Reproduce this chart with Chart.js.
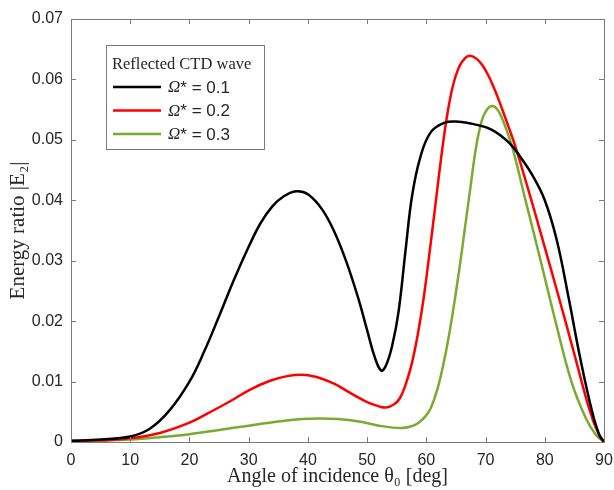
<!DOCTYPE html>
<html>
<head>
<meta charset="utf-8">
<script src="https://cdn.jsdelivr.net/npm/chart.js@4"></script>
<style>
html,body{margin:0;padding:0;background:#fff;}
#wrap{width:614px;height:490px;position:relative;}
</style>
</head>
<body>
<div id="wrap"><canvas id="c" width="614" height="490"></canvas></div>
<script>
// ---- data ----
const legendTitle = 'Reflected CTD wave';
const seriesLabels = ['Ω* = 0.1', 'Ω* = 0.2', 'Ω* = 0.3'];
const seriesColors = ['#000000', '#ff0000', '#77ac30'];

const theta1  = [0,5,10,13.3,16.6,20,22.5,25,27.5,30,32,34,36,38,40,42.4,44.5,46.5,48.5,50,51.3,52.4,53.2,54.2,55.3,56.5,57.6,59,60.7,63,65.4,68,71,74,76,78,80,82,84,86,88,89.2,90];
const energy1 = [0.0002,0.0004,0.0009,0.0022,0.0052,0.0100,0.0150,0.0208,0.0268,0.0323,0.0362,0.0390,0.0407,0.0415,0.0410,0.0385,0.0347,0.0298,0.0238,0.0185,0.0140,0.0118,0.0127,0.0158,0.0215,0.0318,0.0408,0.0472,0.0512,0.0528,0.0530,0.0526,0.0517,0.0495,0.0470,0.0440,0.0400,0.0335,0.0240,0.0138,0.0050,0.0012,0];

const theta2  = [0,5,10,15,20,23.4,26.8,30.1,33.5,36.5,39.5,42,44.5,47,50,52,53.2,54.5,55.5,56.5,57.5,58.5,59.5,60.5,61.5,62.5,63.5,64.5,65.5,66.5,67.4,68.5,69.5,70.5,71.5,72.5,73.5,75,77.5,80,82.5,85,87.5,89,90];
const energy2 = [0.0002,0.0003,0.0006,0.0015,0.0032,0.0049,0.0067,0.0086,0.0101,0.0109,0.0111,0.0106,0.0096,0.0082,0.0066,0.0059,0.0057,0.0062,0.0072,0.0095,0.0128,0.0175,0.0235,0.0310,0.0390,0.0470,0.0540,0.0590,0.0620,0.0635,0.0639,0.0634,0.0623,0.0606,0.0584,0.0559,0.0532,0.0490,0.0408,0.0322,0.0235,0.0145,0.0055,0.0015,0];

const theta3  = [0,5,10,15,20,25,30,35,39,42,45,48.6,52,55.7,57.5,58.7,59.8,60.7,61.8,62.8,63.8,64.8,65.7,66.6,67.5,68.4,69.4,70.3,71.2,72.1,72.9,73.7,74.6,76.7,79.3,81.8,84.5,86.9,88.6,90];
const energy3 = [0.0001,0.0002,0.0004,0.0008,0.0013,0.0020,0.0027,0.0034,0.0038,0.0039,0.0038,0.0034,0.0027,0.0023,0.0026,0.0032,0.0042,0.0055,0.0085,0.0125,0.0175,0.0235,0.0295,0.0360,0.0425,0.0488,0.0533,0.0551,0.0556,0.0549,0.0533,0.0512,0.0485,0.0402,0.0300,0.0200,0.0100,0.0040,0.0012,0];

const xTickValues = [0,10,20,30,40,50,60,70,80,90];
const yTickLabels = ['0','0.01','0.02','0.03','0.04','0.05','0.06','0.07'];
const xTitle = 'Angle of incidence θ₀ [deg]';
const yTitle = 'Energy ratio |E₂|';

function pts(xs, ys){ return xs.map((x,i)=>({x:x, y:ys[i]})); }

const AXIS_COLOR = '#7a7a7a';
const TEXT_COLOR = '#262626';

const boxPlugin = {
  id: 'boxPlugin',
  afterDraw(chart){
    const {ctx, chartArea:a, scales} = chart;
    ctx.save();
    ctx.strokeStyle = AXIS_COLOR;
    ctx.lineWidth = 1;
    ctx.strokeRect(Math.round(a.left)+0.5, Math.round(a.top)+0.5, Math.round(a.right-a.left), Math.round(a.bottom-a.top));
    const tl = 5;
    ctx.beginPath();
    scales.x.ticks.forEach(t=>{
      const px = Math.round(scales.x.getPixelForValue(t.value))+0.5;
      ctx.moveTo(px, a.bottom); ctx.lineTo(px, a.bottom-tl);
      ctx.moveTo(px, a.top); ctx.lineTo(px, a.top+tl);
    });
    scales.y.ticks.forEach(t=>{
      const py = Math.round(scales.y.getPixelForValue(t.value))+0.5;
      ctx.moveTo(a.left, py); ctx.lineTo(a.left+tl, py);
      ctx.moveTo(a.right, py); ctx.lineTo(a.right-tl, py);
    });
    ctx.stroke();

    // legend box
    const lx = 106, ly = 45, lw = 158, lh = 104;
    ctx.fillStyle = '#ffffff';
    ctx.fillRect(lx, ly, lw, lh);
    ctx.strokeStyle = AXIS_COLOR;
    ctx.strokeRect(lx+0.5, ly+0.5, lw, lh);
    ctx.fillStyle = TEXT_COLOR;
    ctx.textBaseline = 'alphabetic';
    ctx.font = '16.5px "Liberation Serif", serif';
    ctx.fillText(legendTitle, lx+6, ly+24);
    chart.data.datasets.forEach((ds,i)=>{
      const yy = ly + 42 + i*23.5;
      ctx.strokeStyle = ds.borderColor;
      ctx.lineWidth = 2.5;
      ctx.beginPath(); ctx.moveTo(lx+7, yy); ctx.lineTo(lx+55, yy); ctx.stroke();
      ctx.fillStyle = TEXT_COLOR;
      ctx.textBaseline = 'middle';
      const lab = ds.label;
      ctx.font = 'italic 17px "Liberation Serif", serif';
      const om = lab.slice(0,1);
      ctx.fillText(om, lx+62, yy+1);
      const w = ctx.measureText(om).width;
      ctx.font = '17px "Liberation Sans", sans-serif';
      ctx.fillText(lab.slice(1), lx+62+w, yy+1);
    });
    ctx.restore();
  }
};

new Chart(document.getElementById('c'), {
  type: 'scatter',
  data: {
    datasets: [
      {label: seriesLabels[0], data: pts(theta1, energy1), borderColor: seriesColors[0]},
      {label: seriesLabels[1], data: pts(theta2, energy2), borderColor: seriesColors[1]},
      {label: seriesLabels[2], data: pts(theta3, energy3), borderColor: seriesColors[2]}
    ].map(d=>Object.assign(d,{showLine:true, pointRadius:0, borderWidth:2.5, tension:0.4, cubicInterpolationMode:'default', fill:false}))
  },
  options: {
    responsive: false,
    animation: false,
    devicePixelRatio: 1,
    layout: {padding: {top: 19, right: 10, left: 0, bottom: 0}},
    plugins: {legend: {display: false}, tooltip: {enabled: false}},
    scales: {
      x: {
        type: 'linear', min: 0, max: 90,
        afterBuildTicks(s){ s.ticks = xTickValues.map(v=>({value:v})); },
        afterFit(s){ s.height = 48; s.paddingLeft = 0; s.paddingRight = 0; },
        grid: {display: false, drawTicks: false},
        border: {display: false},
        ticks: {color: TEXT_COLOR, font: {family: '"Liberation Sans", Arial, sans-serif', size: 16}, padding: 9, maxRotation: 0, callback: v => String(v)},
        title: {display: true, text: xTitle, color: TEXT_COLOR, font: {family: '"Liberation Serif", serif', size: 20}, padding: {top: 0, bottom: 1}}
      },
      y: {
        type: 'linear', min: 0, max: 0.07,
        afterBuildTicks(s){ s.ticks = yTickLabels.map((t,i)=>({value: i*0.01})); },
        afterFit(s){ s.width = 71; s.paddingTop = 0; s.paddingBottom = 0; },
        grid: {display: false, drawTicks: false},
        border: {display: false},
        ticks: {color: TEXT_COLOR, font: {family: '"Liberation Sans", Arial, sans-serif', size: 16}, padding: 8, callback: (v,i) => yTickLabels[i]},
        title: {display: true, text: yTitle, color: TEXT_COLOR, font: {family: '"Liberation Serif", serif', size: 21}, padding: {top: 6, bottom: 0}}
      }
    }
  },
  plugins: [boxPlugin]
});
</script>
</body>
</html>
